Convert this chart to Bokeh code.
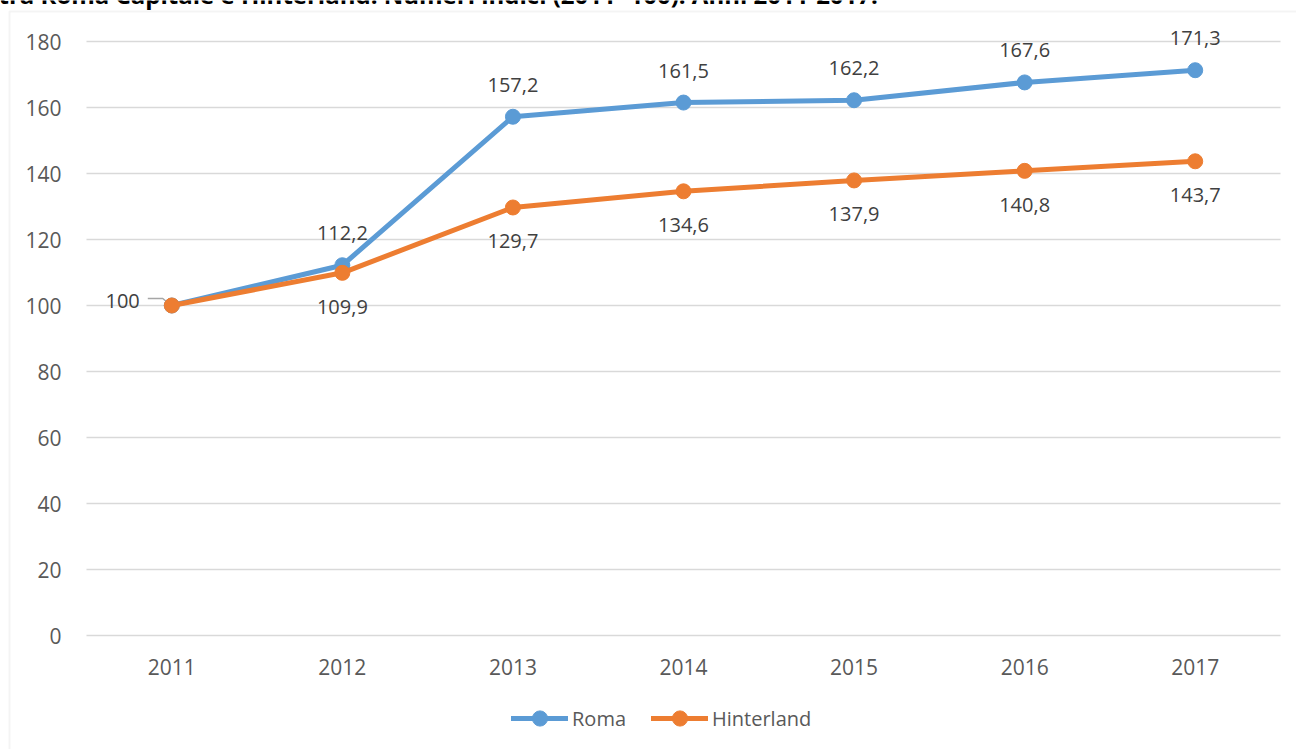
from bokeh.plotting import figure
from bokeh.models import Range1d, FixedTicker, Legend, LegendItem, Label, BoxAnnotation, ColumnDataSource
from bokeh.core.properties import value
from bokeh.embed import file_html
from bokeh.resources import INLINE

# ---- data ----
years = ["2011", "2012", "2013", "2014", "2015", "2016", "2017"]
roma = [100, 112.2, 157.2, 161.5, 162.2, 167.6, 171.3]
hinterland = [100, 109.9, 129.7, 134.6, 137.9, 140.8, 143.7]
y_ticks = [0, 20, 40, 60, 80, 100, 120, 140, 160, 180]
title_text = "tra Roma Capitale e Hinterland. Numeri indici (2011=100). Anni 2011-2017."

BLUE = "#5B9BD5"
ORANGE = "#ED7D31"
FONT = "Open Sans"


def fmt(v):
    return str(int(v)) if float(v).is_integer() else f"{v:.1f}".replace(".", ",")


# ---- layout (pixels on the canvas) ----
W, H = 1296, 749
PL, PR, PT, PB = 86, 1280, 41, 635          # plot area: left/right edge, y of top tick, y of 0
n = len(years)
px_x = (PR - PL) / n                          # pixels per category
px_y = (PB - PT) / (y_ticks[-1] - y_ticks[0])  # pixels per unit
X0 = -0.5 - PL / px_x
X1 = (n - 0.5) + (W - PR) / px_x
Y0 = y_ticks[0] - (H - PB) / px_y
Y1 = y_ticks[0] + PB / px_y


def dx(px):
    return X0 + px / px_x


def dy(py):
    return Y1 - py / px_y


p = figure(width=W, height=H, output_backend="svg", toolbar_location=None,
           x_range=Range1d(X0, X1), y_range=Range1d(Y0, Y1),
           min_border_left=0, min_border_right=0, min_border_top=0, min_border_bottom=0)
p.outline_line_color = None
p.background_fill_color = "white"
p.border_fill_color = "white"

xs = list(range(n))

# axes, drawn inside the canvas at fixed positions
p.xaxis.fixed_location = y_ticks[0]
p.yaxis.fixed_location = -0.5
p.xaxis.ticker = FixedTicker(ticks=xs)
p.xaxis.major_label_overrides = {i: y for i, y in enumerate(years)}
p.yaxis.ticker = FixedTicker(ticks=y_ticks)
for ax in (p.xaxis[0], p.yaxis[0]):
    ax.axis_line_color = None
    ax.major_tick_line_color = None
    ax.minor_tick_line_color = None
    ax.major_label_text_font = FONT
    ax.major_label_text_font_size = "21px"
    ax.major_label_text_color = "#595959"
p.yaxis.major_label_standoff = 19
p.xaxis.major_label_standoff = 17
p.xgrid.grid_line_color = None
p.ygrid.grid_line_color = None

# horizontal gridlines over the plot area only
p.segment(x0=[-0.5] * len(y_ticks), x1=[n - 0.5] * len(y_ticks), y0=y_ticks, y1=y_ticks,
          line_color="#d9d9d9", line_width=1.5, level="underlay")

# chart border (left and top edges visible)
p.add_layout(BoxAnnotation(left=dx(9), right=dx(W + 20), top=dy(11), bottom=dy(H + 20),
                           fill_alpha=0, line_color="#d9d9d9", line_width=2, level="underlay"))

# series
r_line = p.line(xs, roma, line_width=5, color=BLUE, line_join="round", line_cap="round")
r_pt = p.scatter(xs, roma, size=15, color=BLUE)
h_line = p.line(xs, hinterland, line_width=5, color=ORANGE, line_join="round", line_cap="round")
h_pt = p.scatter(xs, hinterland, size=15, color=ORANGE)

# data labels
src_r = ColumnDataSource(dict(x=xs[1:], y=roma[1:], t=[fmt(v) for v in roma[1:]]))
p.text(x="x", y="y", text="t", source=src_r, y_offset=-32, text_align="center",
       text_baseline="middle", text_font=value(FONT), text_font_size="20px", text_color="#404040")
src_h = ColumnDataSource(dict(x=xs[1:], y=hinterland[1:], t=[fmt(v) for v in hinterland[1:]]))
p.text(x="x", y="y", text="t", source=src_h, y_offset=34, text_align="center",
       text_baseline="middle", text_font=value(FONT), text_font_size="20px", text_color="#404040")

# first label with leader line
p.text(x=[xs[0]], y=[roma[0]], text=[fmt(roma[0])], x_offset=-32, y_offset=-5,
       text_align="right", text_baseline="middle", text_font=value(FONT),
       text_font_size="20px", text_color="#404040")
p.line([xs[0] - 24 / px_x, xs[0] - 9 / px_x, xs[0] - 2 / px_x],
       [roma[0] + 7 / px_y, roma[0] + 7 / px_y, roma[0] + 1 / px_y],
       line_color="#a6a6a6", line_width=1.5, level="underlay")

# title (clipped at the top edge, as in the reference)
p.add_layout(Label(x=dx(-2), y=dy(-6), text=title_text,
                   text_font=FONT, text_font_style="bold", text_font_size="24px",
                   text_color="black", text_baseline="middle"))

legend = Legend(items=[LegendItem(label="Roma", renderers=[r_line, r_pt]),
                       LegendItem(label="Hinterland", renderers=[h_line, h_pt])],
                orientation="horizontal", location=(511, H - 737),
                glyph_width=57, glyph_height=38, label_standoff=4, spacing=25,
                padding=0, margin=0, border_line_color=None, background_fill_alpha=0,
                label_text_font=FONT, label_text_font_size="20px", label_text_color="#595959")
p.add_layout(legend, "center")

open("out.html", "w").write(file_html(p, INLINE))
